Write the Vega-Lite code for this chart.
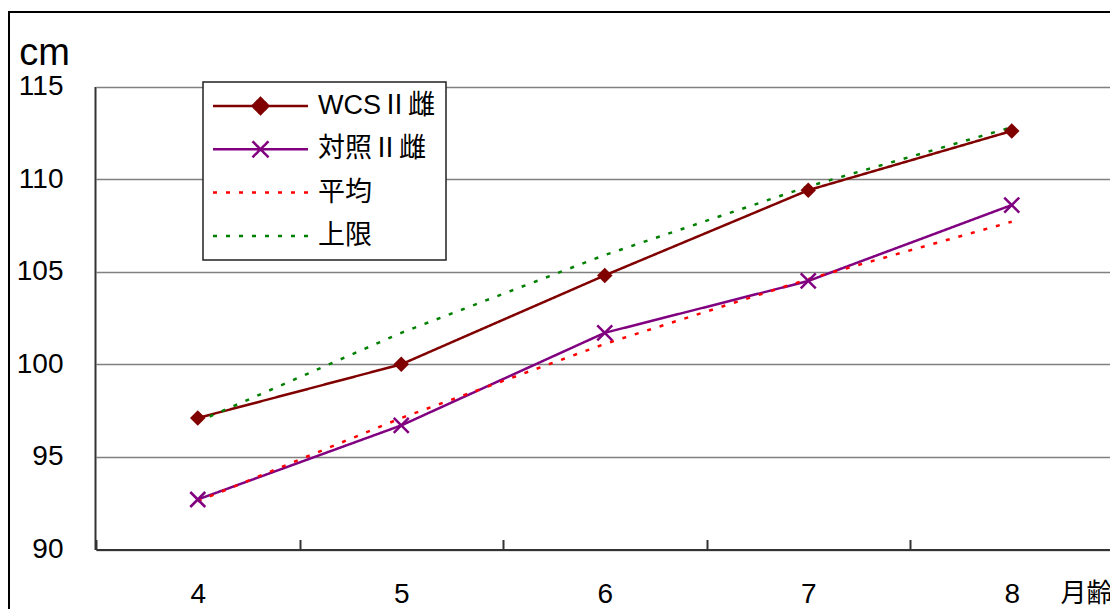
{
  "$schema": "https://vega.github.io/schema/vega-lite/v6.json",
  "width": 1110,
  "height": 610,
  "autosize": {"type": "none"},
  "padding": {"left": 9, "top": 12, "right": 0, "bottom": 0},
  "background": "white",
  "config": {
    "view": {"stroke": "#000000", "strokeWidth": 2},
    "font": "Liberation Sans, Noto Sans CJK JP"
  },
  "data": {
    "values": [
      {"month": 4, "series": "WCSⅡ雌", "height": 97.1},
      {"month": 5, "series": "WCSⅡ雌", "height": 100.0},
      {"month": 6, "series": "WCSⅡ雌", "height": 104.8},
      {"month": 7, "series": "WCSⅡ雌", "height": 109.4},
      {"month": 8, "series": "WCSⅡ雌", "height": 112.6},
      {"month": 4, "series": "対照Ⅱ雌", "height": 92.7},
      {"month": 5, "series": "対照Ⅱ雌", "height": 96.7},
      {"month": 6, "series": "対照Ⅱ雌", "height": 101.7},
      {"month": 7, "series": "対照Ⅱ雌", "height": 104.5},
      {"month": 8, "series": "対照Ⅱ雌", "height": 108.6},
      {"month": 4, "series": "平均", "height": 92.6},
      {"month": 5, "series": "平均", "height": 97.1},
      {"month": 6, "series": "平均", "height": 101.1},
      {"month": 7, "series": "平均", "height": 104.6},
      {"month": 8, "series": "平均", "height": 107.7},
      {"month": 4, "series": "上限", "height": 96.9},
      {"month": 5, "series": "上限", "height": 101.7},
      {"month": 6, "series": "上限", "height": 105.9},
      {"month": 7, "series": "上限", "height": 109.6},
      {"month": 8, "series": "上限", "height": 112.8}
    ]
  },
  "encoding": {
    "x": {
      "field": "month",
      "type": "ordinal",
      "scale": {"range": [87, 1104.5], "paddingInner": 0, "paddingOuter": 0},
      "axis": {
        "orient": "bottom",
        "offset": -72.5,
        "labelAngle": 0,
        "tickBand": "extent",
        "ticks": true,
        "tickSize": -10,
        "tickColor": "#333333",
        "tickWidth": 2,
        "domainColor": "#333333",
        "domainWidth": 2,
        "grid": false,
        "labelFont": "Liberation Sans",
        "labelFontSize": 28,
        "labelColor": "#000000",
        "labelPadding": 41,
        "title": "月齢",
        "titleFont": "Noto Sans CJK JP",
        "titleFontSize": 26,
        "titleFontWeight": "normal",
        "titleColor": "#000000",
        "titleAlign": "left",
        "titleBaseline": "middle",
        "titleX": 1051,
        "titleY": 44,
        "zindex": 2
      }
    },
    "y": {
      "field": "height",
      "type": "quantitative",
      "scale": {"domain": [90, 115], "range": [537.5, 74.5], "zero": false, "nice": false},
      "axis": {
        "values": [90, 95, 100, 105, 110, 115],
        "offset": -86,
        "ticks": false,
        "domainColor": "#333333",
        "domainWidth": 2,
        "grid": true,
        "gridColor": "#808080",
        "gridWidth": 1.5,
        "labelFont": "Liberation Sans",
        "labelFontSize": 28,
        "labelColor": "#000000",
        "labelPadding": 32,
        "title": "cm",
        "titleFont": "Liberation Sans",
        "titleFontSize": 38,
        "titleFontWeight": "normal",
        "titleColor": "#000000",
        "titleAngle": 0,
        "titleAlign": "center",
        "titleBaseline": "middle",
        "titleX": -51,
        "titleY": 41
      }
    }
  },
  "layer": [
    {
      "mark": {"type": "line"},
      "encoding": {
        "color": {
          "field": "series",
          "type": "nominal",
          "scale": {
            "domain": ["WCSⅡ雌", "対照Ⅱ雌", "平均", "上限"],
            "range": ["#800000", "#800080", "#ff0000", "#008000"]
          },
          "legend": {
            "orient": "none",
            "legendX": 194,
            "legendY": 70,
            "direction": "vertical",
            "title": null,
            "padding": 10.5,
            "fillColor": "#ffffff",
            "strokeColor": "#222222",
            "labelFont": "Liberation Sans, Noto Sans CJK JP",
            "labelFontSize": 27,
            "labelColor": "#000000",
            "labelLimit": 0,
            "symbolSize": 100,
            "symbolStrokeWidth": 2.5,
            "symbolOffset": 33.5,
            "labelOffset": 44,
            "rowPadding": 15.3,
            "encode": {
              "legend": {"update": {"strokeWidth": {"value": 1.5}}},
              "symbols": {
                "update": {
                  "shape": {"signal": "datum.value === 'WCSⅡ雌' ? 'M-9.5,0L9.5,0M0,-1.6L1.6,0L0,1.6L-1.6,0Z' : datum.value === '対照Ⅱ雌' ? 'M-9.5,0L9.5,0M-1.6,-1.6L1.6,1.6M-1.6,1.6L1.6,-1.6' : 'M-9.5,0L9.5,0'"},
                  "fill": {"signal": "datum.value === 'WCSⅡ雌' ? '#800000' : 'transparent'"},
                  "strokeWidth": {"signal": "datum.value === 'WCSⅡ雌' || datum.value === '対照Ⅱ雌' ? 2.5 : 3"}
                }
              }
            }
          }
        },
        "strokeDash": {
          "field": "series",
          "type": "nominal",
          "scale": {
            "domain": ["WCSⅡ雌", "対照Ⅱ雌", "平均", "上限"],
            "range": [[1, 0], [1, 0], [4, 9], [4, 9]]
          },
          "legend": {
            "orient": "none",
            "legendX": 194,
            "legendY": 70,
            "direction": "vertical",
            "title": null,
            "padding": 10.5,
            "fillColor": "#ffffff",
            "strokeColor": "#222222",
            "labelFont": "Liberation Sans, Noto Sans CJK JP",
            "labelFontSize": 27,
            "labelColor": "#000000",
            "labelLimit": 0,
            "symbolSize": 100,
            "symbolStrokeWidth": 2.5,
            "symbolOffset": 33.5,
            "labelOffset": 44,
            "rowPadding": 15.3,
            "encode": {
              "legend": {"update": {"strokeWidth": {"value": 1.5}}},
              "symbols": {
                "update": {
                  "shape": {"signal": "datum.value === 'WCSⅡ雌' ? 'M-9.5,0L9.5,0M0,-1.6L1.6,0L0,1.6L-1.6,0Z' : datum.value === '対照Ⅱ雌' ? 'M-9.5,0L9.5,0M-1.6,-1.6L1.6,1.6M-1.6,1.6L1.6,-1.6' : 'M-9.5,0L9.5,0'"},
                  "fill": {"signal": "datum.value === 'WCSⅡ雌' ? '#800000' : 'transparent'"},
                  "strokeWidth": {"signal": "datum.value === 'WCSⅡ雌' || datum.value === '対照Ⅱ雌' ? 2.5 : 3"}
                }
              }
            }
          }
        },
        "strokeWidth": {
          "field": "series",
          "type": "nominal",
          "scale": {
            "domain": ["WCSⅡ雌", "対照Ⅱ雌", "平均", "上限"],
            "range": [2.5, 2.5, 3, 3]
          },
          "legend": null
        }
      }
    },
    {
      "transform": [{"filter": "datum.series === 'WCSⅡ雌'"}],
      "mark": {"type": "point", "shape": "diamond", "filled": true, "color": "#800000", "size": 240, "opacity": 1}
    },
    {
      "transform": [{"filter": "datum.series === '対照Ⅱ雌'"}],
      "mark": {"type": "point", "shape": "M-1,-1L1,1M-1,1L1,-1", "filled": false, "color": "#800080", "size": 225, "strokeWidth": 2.5, "opacity": 1}
    }
  ]
}
